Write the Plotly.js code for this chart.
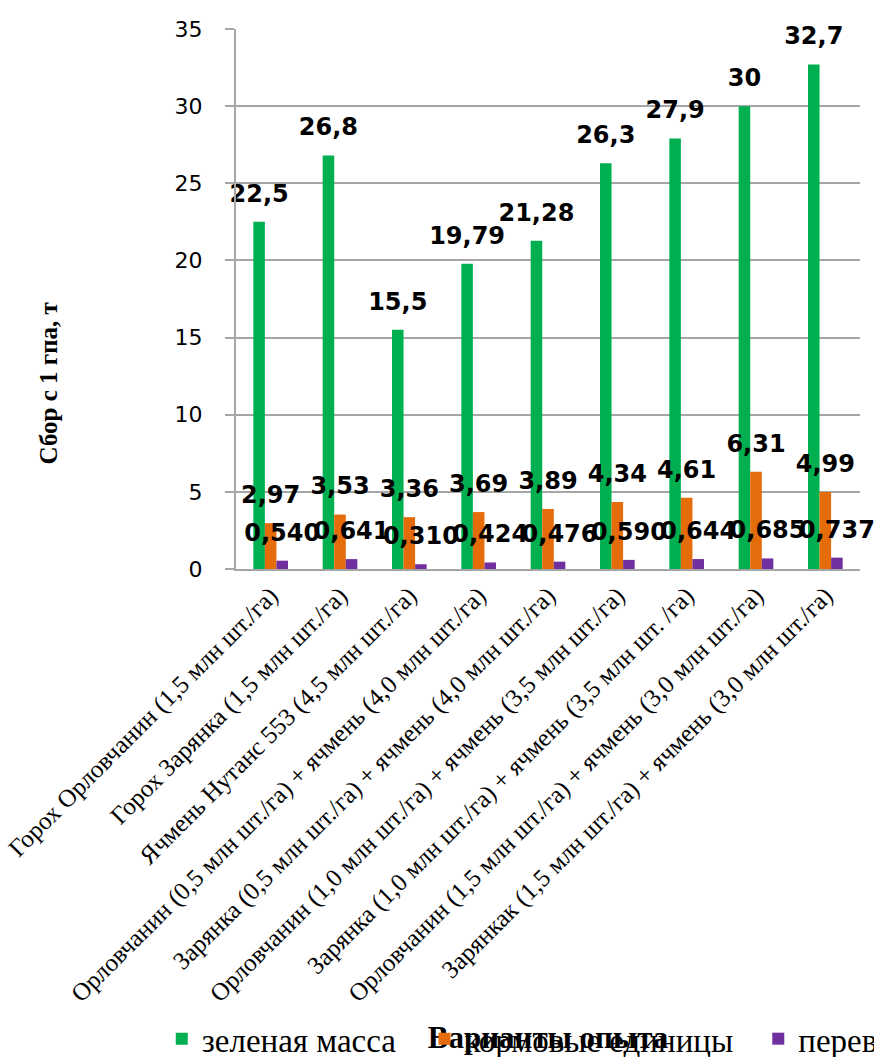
<!DOCTYPE html>
<html>
<head>
<meta charset="utf-8">
<script src="https://cdn.plot.ly/plotly-3.0.1.min.js"></script>
<style>html,body{margin:0;padding:0;background:#fff;}#chart{width:874px;height:1057px;}</style>
</head>
<body>
<div id="chart"></div>
<script>
const categories = [
  "Горох Орловчанин (1,5 млн шт./га)",
  "Горох Зарянка (1,5 млн шт./га)",
  "Ячмень Нутанс 553 (4,5 млн шт./га)",
  "Орловчанин (0,5 млн шт./га) + ячмень (4,0 млн шт./га)",
  "Зарянка (0,5 млн шт./га) + ячмень (4,0 млн шт./га)",
  "Орловчанин (1,0 млн шт./га) + ячмень (3,5 млн шт./га)",
  "Зарянка (1,0 млн шт./га) + ячмень (3,5 млн шт. /га)",
  "Орловчанин (1,5 млн шт./га) + ячмень (3,0 млн шт./га)",
  "Зарянкак (1,5 млн шт./га) + ячмень (3,0 млн шт./га)"
];
const seriesNames = ["зеленая масса", "кормовые единицы", "переваримый протеин"];
const greenMass = [22.5, 26.8, 15.5, 19.79, 21.28, 26.3, 27.9, 30, 32.7];
const feedUnits = [2.97, 3.53, 3.36, 3.69, 3.89, 4.34, 4.61, 6.31, 4.99];
const protein = [0.540, 0.641, 0.310, 0.424, 0.476, 0.590, 0.644, 0.685, 0.737];
const yTicks = [0, 5, 10, 15, 20, 25, 30, 35];
const yTitle = "Сбор с 1 гпа, т";
const xTitle = "Варианты опыта";

const colors = ["#00B050", "#E46C0A", "#7030A0"];
const series = [greenMass, feedUnits, protein];
const labelDigits = [null, null, 3];
const legendIds = ['legend', 'legend2', 'legend3'];
const legendX = [-0.119, 0.302, 0.837];

function fmt(v, d) {
  const s = d == null ? String(v) : v.toFixed(d);
  return s.replace('.', ',');
}

const traces = [];
series.forEach((vals, i) => {
  traces.push({
    type: 'bar',
    name: seriesNames[i],
    x: categories,
    y: vals,
    marker: {color: colors[i]},
    legend: legendIds[i],
    hoverinfo: 'skip'
  });
});
series.forEach((vals, i) => {
  traces.push({
    type: 'scatter',
    mode: 'markers+text',
    x: categories,
    y: vals,
    text: vals.map(v => fmt(v, labelDigits[i])),
    textposition: 'top center',
    textfont: {family: 'DejaVu Sans', size: 24, color: '#000', weight: 'bold'},
    marker: {size: 21, opacity: 0, color: colors[i]},
    showlegend: false,
    hoverinfo: 'skip',
    cliponaxis: false
  });
});

const gray = '#a6a6a6';
const legendFont = {family: 'Liberation Serif', size: 33, color: '#000'};
const layout = {
  width: 874,
  height: 1057,
  margin: {l: 236, r: 14, t: 29, b: 488, autoexpand: false},
  paper_bgcolor: '#fff',
  plot_bgcolor: '#fff',
  barmode: 'group',
  bargap: 0.5,
  bargroupgap: 0,
  scattermode: 'group',
  scattergap: 0.5,
  showlegend: true,
  xaxis: {
    type: 'category',
    tickangle: -45,
    tickfont: {family: 'Liberation Serif', size: 25, color: '#000'},
    showline: true,
    linecolor: gray,
    linewidth: 2,
    ticks: '',
    showgrid: false,
    title: {text: xTitle, font: {family: 'Liberation Serif', size: 31, color: '#000', weight: 'bold'}, standoff: 19}
  },
  yaxis: {
    range: [0, 35],
    tickvals: yTicks,
    ticktext: yTicks.map(String),
    tickfont: {family: 'DejaVu Sans', size: 22, color: '#000'},
    showgrid: true,
    gridcolor: gray,
    gridwidth: 2,
    showline: true,
    linecolor: gray,
    linewidth: 2,
    ticks: 'outside',
    ticklen: 9,
    tickwidth: 2,
    tickcolor: gray,
    ticklabelstandoff: 18,
    zeroline: false
  },
  annotations: [{
    text: yTitle,
    textangle: -90,
    xref: 'paper', yref: 'paper',
    x: -0.301, y: 0.344,
    xanchor: 'center', yanchor: 'middle',
    showarrow: false,
    font: {family: 'Liberation Serif', size: 25, color: '#000', weight: 'bold'}
  }]
};

legendIds.forEach((id, i) => {
  layout[id] = {
    orientation: 'h',
    x: legendX[i],
    xanchor: 'left',
    y: -0.818,
    yanchor: 'top',
    bgcolor: 'rgba(0,0,0,0)',
    font: legendFont
  };
});

Plotly.newPlot('chart', traces, layout, {displayModeBar: false, staticPlot: true}).then(gd => {
  // draw legend entries above the x-axis title, as in the reference
  const info = gd.querySelector('.infolayer');
  if (info) {
    legendIds.forEach(id => {
      const node = info.querySelector('g.' + id);
      if (node) info.appendChild(node);
    });
  }
});
</script>
</body>
</html>
